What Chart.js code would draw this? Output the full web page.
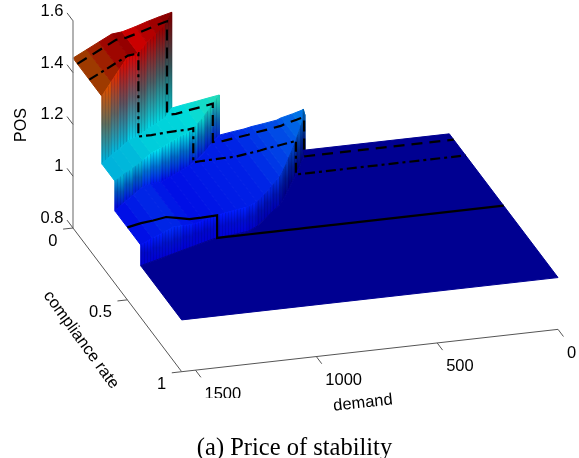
<!DOCTYPE html>
<html>
<head>
<meta charset="utf-8">
<style>
    html, body { margin: 0; padding: 0; background: #fff; }
    canvas { display: block; }
</style>
<script src="https://cdn.jsdelivr.net/npm/chart.js@4"></script>
</head>
<body>
<canvas id="posChart" width="579" height="458"></canvas>
<script>
(function() {
    "use strict";

    // Surface, one column per demand value
    const demandGrid = [1557, 1500, 1450, 1397, 1354, 1300, 1250, 1200, 1149, 1100, 1050, 1000, 952, 900, 850, 818, 770, 715, 695, 650, 612, 604, 0];
    // compliance rate at which each step of the surface sits
    const wallTop = [0.265, 0.225, 0.19, 0.153, 0.15, 0.11, 0.085, 0.055, 0, 0, 0, 0, 0, 0, 0, 0, 0, 0, 0, 0, 0, 0, 0];
    const wallMiddle = [0.385, 0.35, 0.32, 0.288, 0.266, 0.24, 0.215, 0.19, 0.165, 0.132, 0.09, 0.043, 0, 0, 0, 0, 0, 0, 0, 0, 0, 0, 0];
    const wallLow = [0.623, 0.604, 0.587, 0.569, 0.554, 0.536, 0.519, 0.502, 0.495, 0.488, 0.48, 0.454, 0.415, 0.372, 0.331, 0.296, 0.236, 0.166, 0.141, 0.081, 0.031, 0, 0];
    // POS of each plateau
    const posHigh = [1.456, 1.483, 1.507, 1.532, 1.536, 1.55, 1.565, 1.578, 1.59, null, null, null, null, null, null, null, null, null, null, null, null, null, null];
    const posMiddle = [1.195, 1.2, 1.2, 1.205, 1.215, 1.215, 1.218, 1.22, 1.22, 1.228, 1.235, 1.243, 1.25, null, null, null, null, null, null, null, null, null, null];
    const posLow = [1.08, 1.09, 1.095, 1.103, 1.095, 1.085, 1.085, 1.087, 1.09, 1.093, 1.094, 1.095, 1.095, 1.102, 1.108, 1.114, 1.12, 1.128, 1.135, 1.145, 1.155, 1.158, null];
    const posFloor = [1, 1, 1, 1, 1, 1, 1, 1, 1, 1, 1, 1, 1, 1, 1, 1, 1, 1, 1, 1, 1, 1, 1];

    // Lines on the surface, at fixed compliance rate
    const dashedCompliance = 0.04;
    const dashDotCompliance = 0.15;
    const solidCompliance = 0.5;

    const posTicks = [0.8, 1, 1.2, 1.4, 1.6];
    const complianceTicks = [0, 0.5, 1];
    const demandTicks = [1500, 1000, 500, 0];

    const demandMax = 1557;
    const levels = [posHigh, posMiddle, posLow, posFloor];
    const walls = [wallTop, wallMiddle, wallLow];

    // MATLAB view: demand, compliance rate and POS to canvas pixels
    function project(d, c, z) {
        const u = demandMax - d;
        return {
            x: 73 + 0.2417 * u + 108.7 * c,
            y: 228 - 0.0272 * u + 143.7 * c - 259 * (z - 0.8)
        };
    }

    // jet colormap, POS 1 to 1.6
    function jetRgb(z) {
        const t = Math.max(0, Math.min(1, (z - 1) / 0.6)) * 8;
        return [
            Math.max(0, Math.min(1, Math.min(t - 3, 9 - t) / 2)),
            Math.max(0, Math.min(1, Math.min(t - 1, 7 - t) / 2)),
            Math.max(0, Math.min(1, Math.min(t + 1.14, 5 - t) / 2))
        ];
    }

    function css(rgb, shade) {
        return 'rgb(' + rgb.map(function(v) { return Math.round(v * 255 * shade); }).join(',') + ')';
    }

    function jet(z, shade) {
        return css(jetRgb(z), shade);
    }

    const canvas = document.getElementById('posChart');
    const ctx = canvas.getContext('2d');
    const datasets = [];

    function polygon(points, fillStyle, strokeStyle) {
        const closed = points.concat([points[0]]);
        datasets.push({
            data: closed.map(function(p) { return project(p[0], p[1], p[2]); }),
            showLine: true,
            fill: 'shape',
            backgroundColor: fillStyle,
            borderColor: strokeStyle === undefined ? fillStyle : strokeStyle,
            borderWidth: strokeStyle === null ? 0 : 1,
            pointRadius: 0,
            tension: 0
        });
    }

    function line(points, color, width, dash) {
        datasets.push({
            data: points.map(function(p) { return project(p[0], p[1], p[2]); }),
            showLine: true,
            fill: false,
            borderColor: color,
            borderWidth: width,
            borderDash: dash || [],
            pointRadius: 0,
            tension: 0
        });
    }

    // One plateau, a quad per demand step between two walls
    function addPlateau(level, backWall, frontWall, lift) {
        const z = levels[level];
        for (let j = 0; j < demandGrid.length - 1; j++) {
            if (z[j] === null || z[j + 1] === null) continue;
            const b0 = backWall ? backWall[j] : 0;
            const b1 = backWall ? backWall[j + 1] : 0;
            const f0 = frontWall[j];
            const f1 = frontWall[j + 1];
            if (f0 <= b0 && f1 <= b1) continue;
            polygon([
                [demandGrid[j], b0, z[j]],
                [demandGrid[j + 1], b1, z[j + 1]],
                [demandGrid[j + 1], f1, z[j + 1]],
                [demandGrid[j], f0, z[j]]
            ], jet((z[j] + z[j + 1]) / 2, lift(demandGrid[j])));
        }
    }

    // One vertical wall: a gradient strip per demand step, then fine stripes on top
    function addWall(wall, upper, lower, baseShade, footLift) {
        const top = [];
        const bottom = [];
        for (let j = 0; j < demandGrid.length - 1; j++) {
            if (upper[j] === null) break;
            top.push([demandGrid[j], wall[j], upper[j]]);
            bottom.unshift([demandGrid[j], wall[j], lower[j]]);
            if (upper[j + 1] === null || lower[j + 1] === null) continue;
            const a = project(demandGrid[j], wall[j], upper[j]);
            const b = project(demandGrid[j + 1], wall[j + 1], upper[j + 1]);
            const aLow = project(demandGrid[j], wall[j], lower[j]);
            const bLow = project(demandGrid[j + 1], wall[j + 1], lower[j + 1]);
            const dx = bLow.x - aLow.x;
            const dy = bLow.y - aLow.y;
            const facing = Math.abs(dx) / Math.max(0.001, Math.sqrt(dx * dx + dy * dy));
            const shade = baseShade * (0.55 + 0.45 * facing);
            const head = jetRgb((upper[j] + upper[j + 1]) / 2);
            const foot = jetRgb((lower[j] + lower[j + 1]) / 2 + footLift * facing);
            const middle = [0, 1, 2].map(function(i) { return (head[i] + foot[i]) / 2; });
            const gradient = ctx.createLinearGradient(0, (a.y + b.y) / 2, 0, (aLow.y + bLow.y) / 2);
            // nearly straight from top colour to bottom colour, a bit dull halfway
            gradient.addColorStop(0, css(head, shade));
            gradient.addColorStop(0.5, css(middle, shade * 0.87));
            gradient.addColorStop(1, css(foot, shade));
            polygon([
                [demandGrid[j], wall[j], upper[j]],
                [demandGrid[j + 1], wall[j + 1], upper[j + 1]],
                [demandGrid[j + 1], wall[j + 1], lower[j + 1]],
                [demandGrid[j], wall[j], lower[j]]
            ], gradient);
        }
        polygon(top.concat(bottom), stripes, null);
    }

    // Narrow facets of the surface, as a repeating pattern
    const stripeTile = document.createElement('canvas');
    stripeTile.width = 3;
    stripeTile.height = 3;
    const tileCtx = stripeTile.getContext('2d');
    tileCtx.fillStyle = 'rgba(0,0,40,0.12)';
    tileCtx.fillRect(0, 0, 1, 3);
    const stripes = ctx.createPattern(stripeTile, 'repeat');

    // Flat floor in front of the lowest wall
    function floorOutline() {
        const points = [[demandMax, 1, 1], [demandMax, wallLow[0], 1]];
        for (let j = 1; j < demandGrid.length - 1; j++) {
            points.push([demandGrid[j], wallLow[j], 1]);
        }
        points.push([0, 0, 1], [0, 1, 1]);
        return points;
    }

    function levelAt(j, c) {
        for (let w = 0; w < walls.length; w++) {
            if (c < walls[w][j]) return w;
        }
        return walls.length;
    }

    // Walk along demand at one compliance rate, dropping straight down each wall
    function contour(c) {
        const points = [];
        for (let j = 0; j < demandGrid.length; j++) {
            let level = levelAt(j, c);
            points.push([demandGrid[j], c, levels[level][j]]);
            if (j === demandGrid.length - 1) break;
            const next = levelAt(j + 1, c);
            while (level < next) {
                const wall = walls[level];
                const t = (wall[j] - c) / (wall[j] - wall[j + 1]);
                const d = demandGrid[j] + (demandGrid[j + 1] - demandGrid[j]) * t;
                const up = levels[level];
                const down = levels[level + 1];
                const zUp = up[j] + ((up[j + 1] === null ? up[j] : up[j + 1]) - up[j]) * t;
                const zDown = down[j] + ((down[j + 1] === null ? down[j] : down[j + 1]) - down[j]) * t;
                points.push([d, c, zUp], [d, c, zDown]);
                level++;
            }
        }
        return points;
    }

    // Surface, back to front
    addPlateau(0, null, wallTop, function(d) { return d >= 1397 ? 0.62 : 0.9; });
    addWall(wallTop, posHigh, posMiddle, 0.95, 0);
    addPlateau(1, wallTop, wallMiddle, function() { return 0.86; });
    addWall(wallMiddle, posMiddle, posLow, 0.95, 0);
    addPlateau(2, wallMiddle, wallLow, function() { return 0.9; });
    addWall(wallLow, posLow, posFloor, 1, 0.045);
    polygon(floorOutline(), jet(1, 1));

    line(contour(dashedCompliance), '#000', 2.2, [11, 7]);
    line(contour(dashDotCompliance), '#000', 2.2, [10, 4, 3, 4]);
    line(contour(solidCompliance), '#000', 2.2);

    // Axes
    const axisColor = '#555';
    line([[demandMax, 0, 0.8], [demandMax, 0, 1.6]], '#999', 1.5);
    line([[demandMax, 0, 0.8], [demandMax, 1, 0.8]], axisColor, 1);
    line([[demandMax, 1, 0.8], [0, 1, 0.8]], axisColor, 1);
    posTicks.forEach(function(z) {
        line([[demandMax, 0, z], [demandMax, -0.055, z]], axisColor, 1);
    });
    complianceTicks.forEach(function(c) {
        line([[demandMax, c, 0.8], [demandMax + 41, c, 0.8]], axisColor, 1);
    });
    demandTicks.forEach(function(d) {
        line([[d, 1, 0.8], [d, 1.05, 0.8]], axisColor, 1);
    });

    function drawText(c, text, x, y, align, angle, font) {
        c.save();
        c.translate(x, y);
        c.rotate((angle || 0) * Math.PI / 180);
        c.textAlign = align;
        c.textBaseline = 'middle';
        c.font = font;
        c.fillStyle = '#000';
        c.fillText(text, 0, 0);
        c.restore();
    }

    // Chart.js has no 3D axes, tick labels and titles are placed from the same projection
    const axisText = {
        id: 'axisText',
        afterDraw: function(chart) {
            const c = chart.ctx;
            const font = '16.5px "Liberation Sans"';
            posTicks.forEach(function(z) {
                const p = project(demandMax, 0, z);
                drawText(c, String(z), p.x - 9.5, p.y - 9.5, 'right', 0, font);
            });
            complianceTicks.forEach(function(v) {
                const p = project(demandMax, v, 0.8);
                drawText(c, String(v), p.x - 15.5, p.y + 13, 'right', 0, font);
            });
            // the 1500 label is cut at its foot in the original
            c.save();
            c.beginPath();
            c.rect(0, 0, 579, 398);
            c.clip();
            demandTicks.forEach(function(d) {
                const p = project(d, 1, 0.8);
                drawText(c, String(d), p.x + 9, p.y + 24, 'left', 0, font);
            });
            c.restore();
            drawText(c, 'POS', 22, 125, 'center', -90, '16px "Liberation Sans"');
            drawText(c, 'compliance rate', 81, 340, 'center', 54, font);
            drawText(c, 'demand', 363, 403, 'center', -6, font);
            drawText(c, '(a) Price of stability', 294.5, 449, 'center', 0, '24.5px "Liberation Serif"');
        }
    };

    new Chart(canvas, {
        type: 'scatter',
        data: { datasets: datasets.reverse() }, // Chart.js paints the first dataset last
        options: {
            responsive: false,
            animation: false,
            devicePixelRatio: 1,
            layout: { padding: 0 },
            plugins: { legend: { display: false }, tooltip: { enabled: false } },
            scales: {
                x: { type: 'linear', min: 0, max: 579, display: false },
                y: { type: 'linear', min: 0, max: 458, reverse: true, display: false }
            }
        },
        plugins: [axisText]
    });
})();
</script>
</body>
</html>
